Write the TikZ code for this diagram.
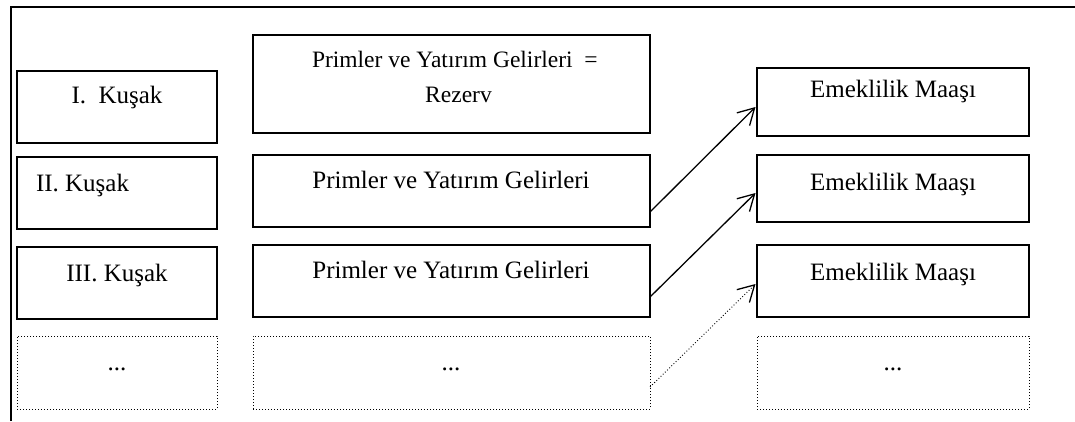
\documentclass[tikz,border=0pt]{standalone}
\usepackage{fontspec}
\setmainfont{Liberation Serif}
\usetikzlibrary{arrows.meta}
\begin{document}
\begin{tikzpicture}[x=1pt,y=-1pt,
  box/.style={draw, line width=1.4pt, inner sep=0pt, outer sep=0pt, rectangle},
  dbox/.style={draw, line width=0.9pt, dash pattern=on 0.9pt off 2.1pt, inner sep=0pt, outer sep=0pt, rectangle},
  lcol/.style={minimum width=200pt},
  mcol/.style={minimum width=397pt},
  rcol/.style={minimum width=272pt},
  txt/.style={font=\fontsize{25pt}{30pt}\selectfont, inner sep=0pt, outer sep=0pt},
  stxt/.style={font=\fontsize{23.5pt}{28pt}\selectfont, inner sep=0pt, outer sep=0pt},
  arr/.style={line width=1.3pt, -{Straight Barb[length=16pt,width=18pt,line width=1.3pt]}},
  darr/.style={line width=0.9pt, dash pattern=on 0.9pt off 2.1pt, -{Straight Barb[length=16pt,width=18pt,line width=1.3pt,sep=0pt]}}
]
\useasboundingbox (0,0) rectangle (1075,421);
% outer frame
\draw[line width=2.6pt] (11,421) -- (11,7) -- (1075,7);

% left column
\node[box,lcol,minimum height=72pt] (L1) at (117,107) {};
\node[box,lcol,minimum height=72pt] (L2) at (117,193) {};
\node[box,lcol,minimum height=72pt] (L3) at (117,283) {};
\node[dbox,lcol,minimum height=73pt] (L4) at (117,372.5) {};
% middle column
\node[box,mcol,minimum height=98pt] (M1) at (451.5,84) {};
\node[box,mcol,minimum height=72pt] (M2) at (451.5,191) {};
\node[box,mcol,minimum height=72pt] (M3) at (451.5,281) {};
\node[dbox,mcol,minimum height=73pt] (M4) at (451.5,372.5) {};
% right column
\node[box,rcol,minimum height=68pt] (R1) at (893,102) {};
\node[box,rcol,minimum height=67pt] (R2) at (893,188.5) {};
\node[box,rcol,minimum height=72pt] (R3) at (893,281) {};
\node[dbox,rcol,minimum height=73pt] (R4) at (893,372.5) {};

% texts
\node[txt,anchor=base] (tL1) at (117,103) {I.~~Kuşak};
\node[txt,anchor=base west] (tL2) at (36,191) {II. Kuşak};
\node[txt,anchor=base] (tL3) at (117,281) {III. Kuşak};
\node[txt,anchor=base] (tL4) at (117,370) {...};

\node[stxt,anchor=base west] (tM1a) at (312,67.5) {Primler ve Yatırım Gelirleri~~=};
\node[stxt,anchor=base] (tM1b) at (458.5,102.5) {Rezerv};
\node[txt,anchor=base] (tM2) at (451,188) {Primler ve Yatırım Gelirleri};
\node[txt,anchor=base] (tM3) at (451,278) {Primler ve Yatırım Gelirleri};
\node[txt,anchor=base] (tM4) at (451,370) {...};

\node[txt,anchor=base] (tR1) at (893,97) {Emeklilik Maaşı};
\node[txt,anchor=base] (tR2) at (893,190) {Emeklilik Maaşı};
\node[txt,anchor=base] (tR3) at (893,280) {Emeklilik Maaşı};
\node[txt,anchor=base] (tR4) at (893,370) {...};

% arrows
\draw[arr] ([yshift=15pt]M2.south east) -- ([xshift=-1.5pt,yshift=-39pt]R1.north west);
\draw[arr] ([yshift=20pt]M3.south east) -- ([xshift=-1.5pt,yshift=-38pt]R2.north west);
\draw[darr] ([yshift=22pt]M4.south east) -- ([xshift=-1.5pt,yshift=-39pt]R3.north west);
\end{tikzpicture}
\end{document}
